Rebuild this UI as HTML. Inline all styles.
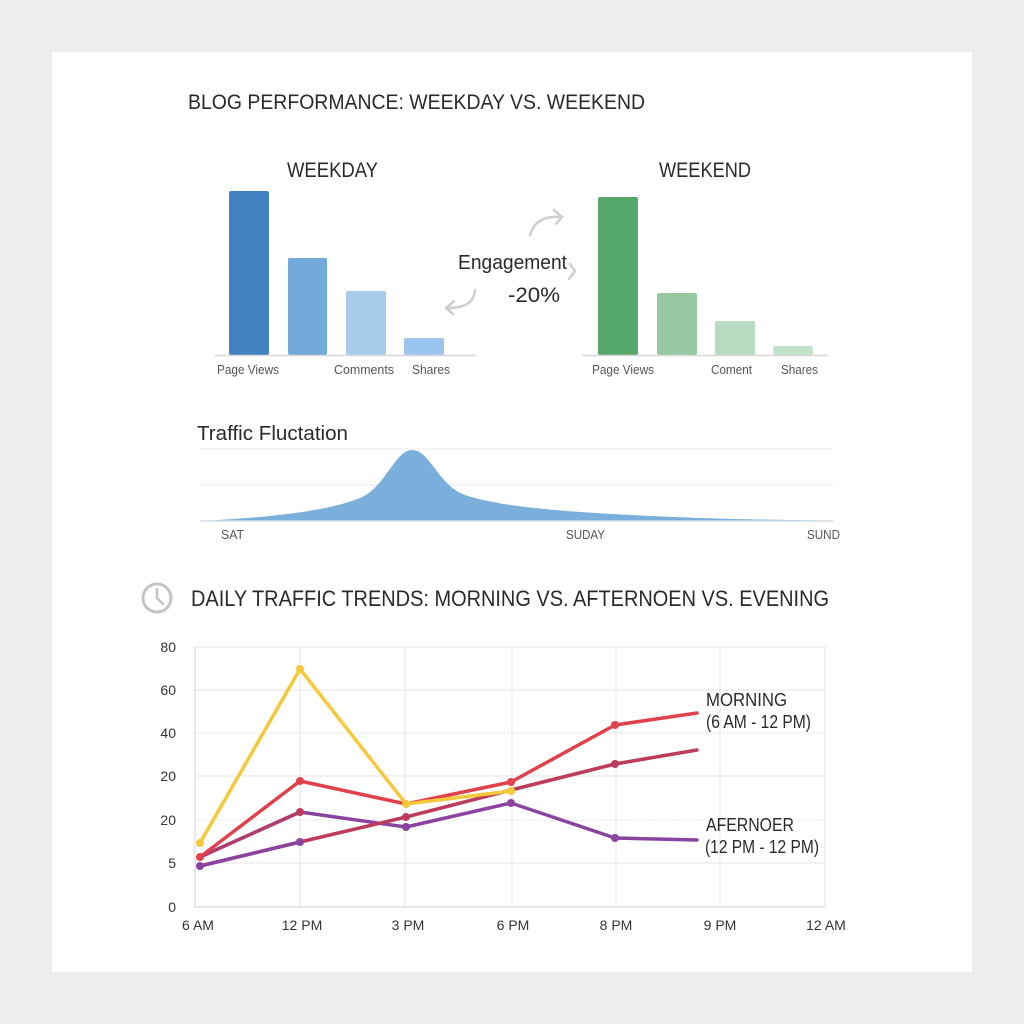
<!DOCTYPE html>
<html><head><meta charset="utf-8"><style>
html,body{margin:0;padding:0;background:#ededed;}
svg{display:block;font-family:"Liberation Sans",sans-serif;}
</style></head><body>
<svg width="1024" height="1024" viewBox="0 0 1024 1024" xmlns="http://www.w3.org/2000/svg">
<rect x="0" y="0" width="1024" height="1024" fill="#ededed"/>
<rect x="52" y="52" width="920" height="920" fill="#ffffff"/>
<text x="188" y="109" font-size="21" fill="#2a2a2a" textLength="457" lengthAdjust="spacingAndGlyphs">BLOG PERFORMANCE: WEEKDAY VS. WEEKEND</text>
<text x="287" y="177" font-size="21" fill="#2a2a2a" textLength="91" lengthAdjust="spacingAndGlyphs">WEEKDAY</text>
<text x="659" y="177" font-size="21" fill="#2a2a2a" textLength="92" lengthAdjust="spacingAndGlyphs">WEEKEND</text>
<!-- weekday bars -->
<rect x="229" y="191" width="40" height="164" rx="2" fill="#4281c2"/>
<rect x="288" y="258" width="39" height="97" rx="2" fill="#72aadb"/>
<rect x="346" y="291" width="40" height="64" rx="2" fill="#a9cbeb"/>
<rect x="404" y="338" width="40" height="17" rx="2" fill="#99c5ee"/>
<line x1="215" y1="355.5" x2="476" y2="355.5" stroke="#d8d8d8" stroke-width="1.5"/>
<g font-size="13" fill="#555" lengthAdjust="spacingAndGlyphs">
<text x="217" y="374" textLength="62" lengthAdjust="spacingAndGlyphs">Page Views</text><text x="334" y="374" textLength="60" lengthAdjust="spacingAndGlyphs">Comments</text><text x="412" y="374" textLength="38" lengthAdjust="spacingAndGlyphs">Shares</text>
<text x="592" y="374" textLength="62" lengthAdjust="spacingAndGlyphs">Page Views</text><text x="711" y="374" textLength="41" lengthAdjust="spacingAndGlyphs">Coment</text><text x="781" y="374" textLength="37" lengthAdjust="spacingAndGlyphs">Shares</text>
</g>
<!-- weekend bars -->
<rect x="598" y="197" width="40" height="158" rx="2" fill="#55a86a"/>
<rect x="657" y="293" width="40" height="62" rx="2" fill="#96c9a1"/>
<rect x="715" y="321" width="40" height="34" rx="2" fill="#b8dcc1"/>
<rect x="773" y="346" width="40" height="9" rx="2" fill="#c3e2cb"/>
<line x1="582" y1="355.5" x2="828" y2="355.5" stroke="#d8d8d8" stroke-width="1.5"/>
<!-- engagement -->
<text x="458" y="269" font-size="20" fill="#2a2a2a" textLength="109" lengthAdjust="spacingAndGlyphs">Engagement</text>
<text x="508" y="302" font-size="21" fill="#2a2a2a" textLength="52" lengthAdjust="spacingAndGlyphs">-20%</text>
<g fill="none" stroke="#cfcfcf" stroke-width="2.5" stroke-linecap="round">
<path d="M530 235 Q536 215 560 217"/><path d="M554 210 L562 217 L556 224"/>
<path d="M475 290 Q474 308 448 308"/><path d="M454 301 L446 308 L453 314"/>
<path d="M570 264 L575 271 L569 279"/>
</g>
<!-- traffic fluctuation -->
<text x="197" y="440" font-size="20" fill="#2a2a2a" textLength="151" lengthAdjust="spacingAndGlyphs">Traffic Fluctation</text>
<line x1="200" y1="449" x2="833" y2="449" stroke="#e8e8e8"/>
<line x1="200" y1="485" x2="833" y2="485" stroke="#e8e8e8"/>
<path d="M200 521 C280 517 330 510 360 498 C385 488 395 450 412 450 C430 450 438 485 465 495 C510 510 600 514 700 518 C760 520 810 520 833 521 Z" fill="#7aafdb"/>
<line x1="200" y1="521" x2="833" y2="521" stroke="#d4dde6" stroke-width="1.5"/>
<g font-size="13" fill="#555"><text x="221" y="539" textLength="23" lengthAdjust="spacingAndGlyphs">SAT</text><text x="566" y="539" textLength="39" lengthAdjust="spacingAndGlyphs">SUDAY</text><text x="807" y="539" textLength="33" lengthAdjust="spacingAndGlyphs">SUND</text></g>
<!-- daily traffic title -->
<circle cx="157" cy="598" r="14" fill="none" stroke="#c4c4c4" stroke-width="3"/>
<path d="M157 589 V598 L163 604" fill="none" stroke="#c4c4c4" stroke-width="2.5" stroke-linecap="round"/>
<text x="191" y="606" font-size="22" fill="#2a2a2a" textLength="638" lengthAdjust="spacingAndGlyphs">DAILY TRAFFIC TRENDS: MORNING VS. AFTERNOEN VS. EVENING</text>
<!-- grid -->
<g stroke="#e6e6e6" stroke-width="1">
<line x1="195" y1="647" x2="825" y2="647"/><line x1="195" y1="690" x2="825" y2="690"/>
<line x1="195" y1="733" x2="825" y2="733" stroke-dasharray="2 1"/><line x1="195" y1="776" x2="825" y2="776"/>
<line x1="195" y1="820" x2="825" y2="820" stroke-dasharray="2 1"/><line x1="195" y1="863" x2="825" y2="863"/>
<line x1="300" y1="647" x2="300" y2="907"/><line x1="405" y1="647" x2="405" y2="907"/>
<line x1="512" y1="647" x2="512" y2="907"/><line x1="616" y1="647" x2="616" y2="907"/>
<line x1="720" y1="647" x2="720" y2="907"/><line x1="825" y1="647" x2="825" y2="907"/>
</g>
<line x1="195" y1="647" x2="195" y2="907" stroke="#d0d0d0"/>
<line x1="195" y1="907" x2="825" y2="907" stroke="#d0d0d0"/>
<g font-size="14" fill="#333" text-anchor="end">
<text x="176" y="652">80</text><text x="176" y="695">60</text><text x="176" y="738">40</text>
<text x="176" y="781">20</text><text x="176" y="825">20</text><text x="176" y="868">5</text><text x="176" y="912">0</text>
</g>
<g font-size="14" fill="#333" text-anchor="middle">
<text x="198" y="930">6 AM</text><text x="302" y="930">12 PM</text><text x="408" y="930">3 PM</text>
<text x="513" y="930">6 PM</text><text x="616" y="930">8 PM</text><text x="720" y="930">9 PM</text><text x="826" y="930">12 AM</text>
</g>
<!-- series -->
<g fill="none" stroke-width="3.5" stroke-linejoin="round" stroke-linecap="round">
<polyline points="200,857 300,812 406,827 511,803 615,838 697,840" stroke="#8a44a0"/>
<polyline points="200,857 300,812" stroke="#b03d6e"/>
<polyline points="200,866 300,842 406,817 511,790 615,764 697,750" stroke="#bd3c5c"/>
<polyline points="200,866 300,842" stroke="#8a44a0"/>
<polyline points="200,857 300,781 406,804 511,782 615,725 697,713" stroke="#e0414b"/>
<polyline points="200,843 300,669 406,804 511,791" stroke="#f7c83a"/>
</g>
<g fill="#8a44a0"><circle cx="200" cy="866" r="4"/><circle cx="300" cy="842" r="4"/><circle cx="406" cy="827" r="4"/><circle cx="511" cy="803" r="4"/><circle cx="615" cy="838" r="4"/></g>
<g fill="#bd3c5c"><circle cx="300" cy="812" r="4"/><circle cx="406" cy="817" r="4"/><circle cx="615" cy="764" r="4"/></g>
<g fill="#e0414b"><circle cx="200" cy="857" r="4"/><circle cx="300" cy="781" r="4"/><circle cx="511" cy="782" r="4"/><circle cx="615" cy="725" r="4"/></g>
<g fill="#f7c83a"><circle cx="200" cy="843" r="4"/><circle cx="300" cy="669" r="4"/><circle cx="406" cy="804" r="4"/><circle cx="511" cy="791" r="4"/></g>
<g font-size="18" fill="#2a2a2a">
<text x="706" y="706" textLength="81" lengthAdjust="spacingAndGlyphs">MORNING</text><text x="706" y="728" textLength="105" lengthAdjust="spacingAndGlyphs">(6 AM - 12 PM)</text>
<text x="706" y="831" textLength="88" lengthAdjust="spacingAndGlyphs">AFERNOER</text><text x="705" y="853" textLength="114" lengthAdjust="spacingAndGlyphs">(12 PM - 12 PM)</text>
</g>
</svg>
</body></html>
